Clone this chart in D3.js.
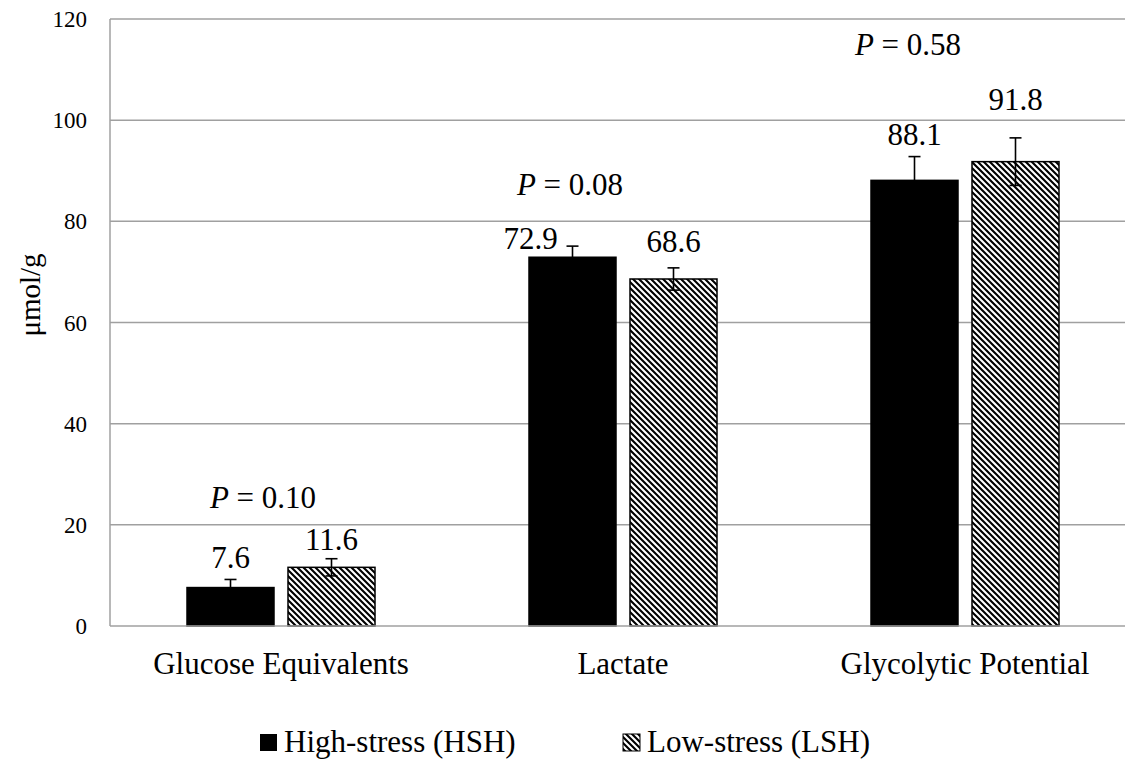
<!DOCTYPE html>
<html>
<head>
<meta charset="utf-8">
<script src="https://cdn.jsdelivr.net/npm/d3@7"></script>
<style>
  html, body { margin: 0; padding: 0; background: #fff; }
  svg { display: block; }
</style>
</head>
<body>
<svg id="chart" width="1125" height="759"></svg>
<script>
// ---- data ----
const categories = ["Glucose Equivalents", "Lactate", "Glycolytic Potential"];
const seriesNames = ["High-stress (HSH)", "Low-stress (LSH)"];
const hshValues = [7.6, 72.9, 88.1];
const lshValues = [11.6, 68.6, 91.8];
const hshErrors = [1.6, 2.2, 4.7];
const lshErrors = [1.7, 2.2, 4.7];
const pValues = ["0.10", "0.08", "0.58"];
const yTicks = [0, 20, 40, 60, 80, 100, 120];
const yLabel = "μmol/g";

(function () {
// ---- layout (annotation placement) ----
const valueLabelOffsets = [
  [{dx: 0, dy: -20}, {dx: 0, dy: -17}],
  [{dx: -42, dy: -8}, {dx: 0, dy: -27}],
  [{dx: 0, dy: -35}, {dx: 0, dy: -52}]
];
const pLabelPlacement = [{dx: -18, yv: 23.3}, {dx: -53, yv: 85.2}, {dx: -57, yv: 112.9}];
const FONT = "'Liberation Serif', 'Times New Roman', 'DejaVu Serif', serif";
const BIG = 31, TICK = 23;

const svg = d3.select("#chart").attr("font-family", FONT);
const W = 1125;
const plotLeft = 110, plotRight = 1136, plotTop = 19, plotBottom = 626;

const defs = svg.append("defs");
const p = defs.append("pattern").attr("id", "hatch")
  .attr("patternUnits", "userSpaceOnUse").attr("width", 6).attr("height", 6);
p.append("rect").attr("width", 6).attr("height", 6).attr("fill", "#fff");
p.append("path").attr("d", "M-1,-1 L7,7 M-1,5 L1,7 M5,-1 L7,1")
  .attr("stroke", "#000").attr("stroke-width", 2.1).attr("fill", "none");

const x = d3.scaleBand().domain(categories).range([plotLeft, plotRight]).paddingInner(0).paddingOuter(0);
const y = d3.scaleLinear().domain([0, 120]).range([plotBottom, plotTop]);

const barW = 87, gap = 14;

// gridlines
svg.append("g").selectAll("line").data(yTicks.filter(t => t > 0)).join("line")
  .attr("x1", plotLeft).attr("x2", W)
  .attr("y1", d => y(d)).attr("y2", d => y(d))
  .attr("stroke", "#a0a0a0").attr("stroke-width", 1.5);

// y tick labels
svg.append("g").selectAll("text").data(yTicks).join("text")
  .attr("font-family", FONT)
  .attr("x", 87).attr("y", d => y(d)).attr("dy", "0.35em")
  .attr("text-anchor", "end").attr("font-size", TICK).text(d => d);

// y axis label
svg.append("text").attr("transform", "translate(40,295) rotate(-90)")
  .attr("font-family", FONT)
  .attr("text-anchor", "middle").attr("font-size", 29).text(yLabel);

// bars
const series = [hshValues, lshValues];
const errs = [hshErrors, lshErrors];
const fills = ["#000", "url(#hatch)"];
function barX(ci, si) {
  const c = x(categories[ci]) + x.bandwidth() / 2;
  return si === 0 ? c - gap / 2 - barW : c + gap / 2;
}
series.forEach((vals, si) => {
  svg.append("g").selectAll("rect").data(vals).join("rect")
    .attr("x", (d, i) => barX(i, si))
    .attr("y", d => y(d))
    .attr("width", barW)
    .attr("height", d => y(0) - y(d))
    .attr("fill", fills[si])
    .attr("stroke", "#000").attr("stroke-width", 1.5);
});

// axis lines
svg.append("line").attr("x1", plotLeft).attr("x2", W).attr("y1", y(0)).attr("y2", y(0))
  .attr("stroke", "#a0a0a0").attr("stroke-width", 1.5);
svg.append("line").attr("x1", plotLeft).attr("x2", plotLeft).attr("y1", y(0)).attr("y2", y(120))
  .attr("stroke", "#a0a0a0").attr("stroke-width", 1.5);

// error bars
series.forEach((vals, si) => {
  const g = svg.append("g").attr("stroke", "#000").attr("stroke-width", 1.6);
  vals.forEach((v, i) => {
    const cx = barX(i, si) + barW / 2;
    const e = errs[si][i];
    g.append("line").attr("x1", cx).attr("x2", cx).attr("y1", y(v - e)).attr("y2", y(v + e));
    g.append("line").attr("x1", cx - 6).attr("x2", cx + 6).attr("y1", y(v + e)).attr("y2", y(v + e));
    g.append("line").attr("x1", cx - 6).attr("x2", cx + 6).attr("y1", y(v - e)).attr("y2", y(v - e));
  });
});

// value labels
series.forEach((vals, si) => {
  svg.append("g").selectAll("text").data(vals).join("text")
    .attr("font-family", FONT)
    .attr("x", (d, i) => barX(i, si) + barW / 2 + valueLabelOffsets[i][si].dx)
    .attr("y", (d, i) => y(d) + valueLabelOffsets[i][si].dy)
    .attr("text-anchor", "middle").attr("font-size", BIG)
    .text(d => d.toFixed(1));
});

// P labels
const pt = svg.append("g").selectAll("text").data(pValues).join("text")
  .attr("font-family", FONT)
  .attr("x", (d, i) => x(categories[i]) + x.bandwidth() / 2 + pLabelPlacement[i].dx)
  .attr("y", (d, i) => y(pLabelPlacement[i].yv))
  .attr("text-anchor", "middle").attr("font-size", BIG);
pt.append("tspan").attr("font-style", "italic").text("P");
pt.append("tspan").text(d => " = " + d);

// category labels
svg.append("g").selectAll("text").data(categories).join("text")
  .attr("font-family", FONT)
  .attr("x", d => x(d) + x.bandwidth() / 2).attr("y", 674)
  .attr("text-anchor", "middle").attr("font-size", BIG).text(d => d);

// legend
const legendX = [260, 623];
const lg = svg.append("g");
seriesNames.forEach((name, si) => {
  lg.append("rect").attr("x", legendX[si]).attr("y", 734).attr("width", 17).attr("height", 17)
    .attr("fill", fills[si]).attr("stroke", si === 0 ? "none" : "#000").attr("stroke-width", 1);
  lg.append("text").attr("font-family", FONT).attr("x", legendX[si] + 24).attr("y", 752)
    .attr("font-size", BIG).text(name);
});
})();
</script>
</body>
</html>
